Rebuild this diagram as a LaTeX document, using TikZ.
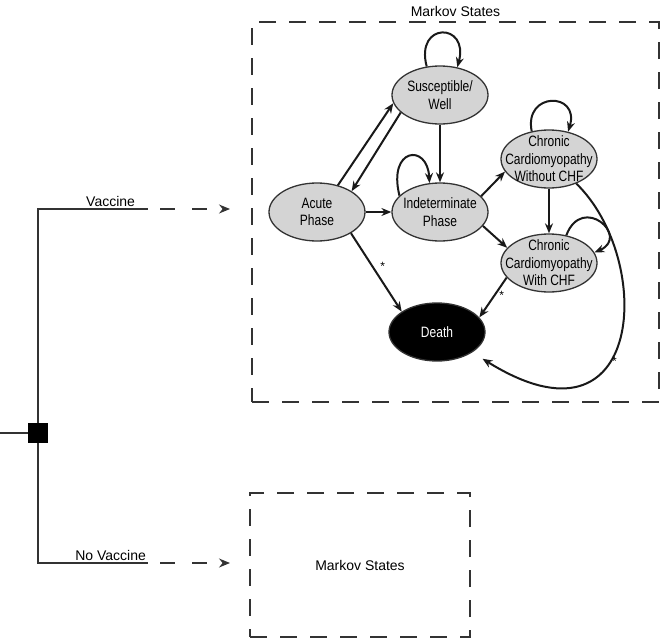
\documentclass[tikz,border=0pt]{standalone}
\usepackage{fontspec}
\setmainfont{Liberation Sans}
\newfontfamily\statefont{Liberation Sans}[FakeStretch=0.8]
\usetikzlibrary{shapes.geometric,arrows.meta}
\definecolor{stategray}{gray}{0.83}
\definecolor{linegray}{gray}{0.2}

\begin{document}
\begin{tikzpicture}[x=1pt, y=-1pt,
    state/.style = {draw=linegray, ellipse, fill=stategray, line width=1.3pt, minimum width=96pt, minimum height=58pt, inner sep=0pt},
    txt/.style = {align=center, inner sep=0pt, font=\statefont\fontsize{15}{17.5}\selectfont},
    trans/.style = {-{Stealth[length=10pt,width=8pt]}, line width=2pt, draw=black!90},
    mbox/.style = {draw=linegray, line width=1.3pt, dash pattern=on 17pt off 13pt, font=\fontsize{14}{16}\selectfont},
    branch/.style = {draw=linegray, line width=1.3pt},
    tip/.style = {branch, dash pattern=on 15pt off 17pt, shorten <=12pt, -{Stealth[length=11pt,width=9pt]}},
    asterisk/.style = {font=\fontsize{12}{12}\selectfont, inner sep=1pt}]
\useasboundingbox (0,0) rectangle (661,640);

% the two groups of states
\node[mbox, minimum width=407pt, minimum height=380pt, label={[font=\fontsize{14}{16}\selectfont, label distance=1pt]above:Markov States}] (vbox) at (455.5,212) {};
\node[mbox, minimum width=220pt, minimum height=144pt] (nbox) at (360,565) {Markov States};

% decision
\node[fill=black, draw=black, minimum size=19pt, inner sep=0pt] (dec) at (38,433) {};
\coordinate (root) at (0,433);
\coordinate (vacmid) at (148,209);
\coordinate (vacend) at (230,209);
\coordinate (novacmid) at (148,563);
\coordinate (novacend) at (230,563);

\draw[branch] (root) -- (dec.west);
\draw[branch] (dec.north) |- node[pos=0.83, above, inner sep=1.5pt, font=\fontsize{14}{16}\selectfont] {Vaccine} (vacmid);
\draw[branch] (dec.south) |- node[pos=0.83, above, inner sep=1.5pt, font=\fontsize{14}{16}\selectfont] {No Vaccine} (novacmid);
\draw[tip] (vacmid) -- (vacend);
\draw[tip] (novacmid) -- (novacend);

% states
\node[state, label={[txt]center:{Susceptible/\\Well}}] (sus) at (440,95) {};
\node[state, label={[txt]center:{Acute\\Phase}}] (acute) at (317,212) {};
\node[state, label={[txt]center:{Indeterminate\\Phase}}] (ind) at (440,212) {};
\node[state, label={[txt]center:{Chronic\\Cardiomyopathy\\Without CHF}}] (cw) at (549,159) {};
\node[state, label={[txt]center:{Chronic\\Cardiomyopathy\\With CHF}}] (cc) at (549,263) {};
\node[state, fill=black, label={[txt, text=white]center:Death}] (death) at (437,332) {};

\draw[trans] (acute.52) -- (sus.190);
\draw[trans] (sus.204) -- (acute.31);
\draw[trans] (sus) -- (ind);
\draw[trans] (ind.21) -- (cw.196);
\draw[trans] (ind.342) -- (cc.160);
\draw[trans] (cw) -- (cc);
\draw[trans] (acute.328) -- node[asterisk, pos=0.42, anchor=west, xshift=6pt] {*} (death.150);
\draw[trans] (cc.199) -- node[asterisk, pos=0.45, anchor=west, xshift=3pt] {*} (death.19);
\draw[trans, line width=1.1pt] (acute) -- (ind);

\draw[trans] (sus.115) .. controls +(-12,-45) and +(12,-45) .. (sus.58);
\draw[trans] (ind.158) .. controls +(-12,-48) and +(-2,-40) .. (ind.110);
\draw[trans] (cw.122) .. controls +(-8,-40) and +(12,-40) .. (cw.55);
\draw[trans] (cc.58) .. controls +(16,-42) and +(36,-16) .. (cc.13);
\draw[trans, shorten >=12pt] (cw.318) .. controls (655,260) and (645,460) .. node[asterisk, pos=0.6, anchor=west, xshift=4pt] {*} (death.330);
\end{tikzpicture}
\end{document}
